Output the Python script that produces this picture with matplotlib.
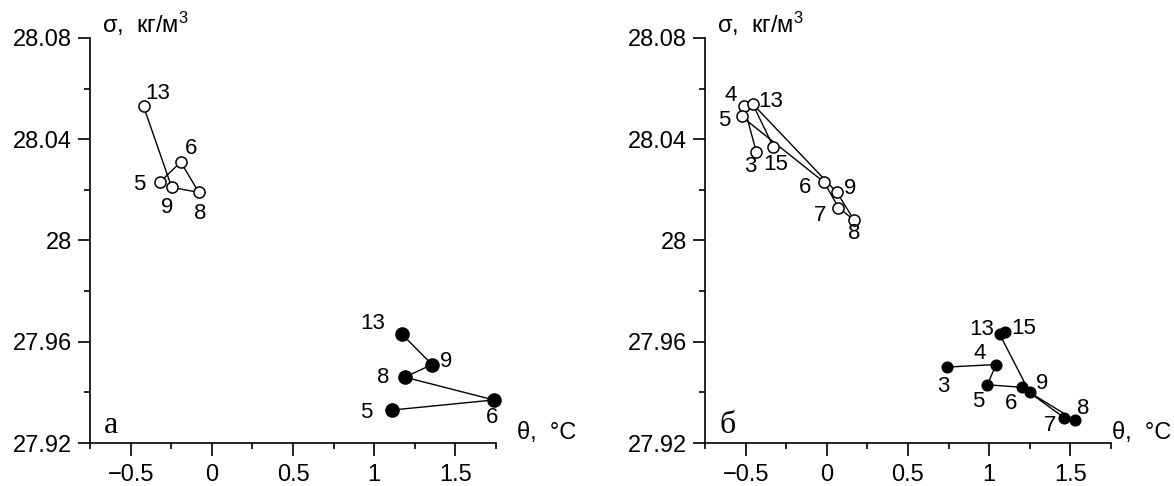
#!/usr/bin/env python3
# -*- coding: utf-8 -*-

import matplotlib
matplotlib.use("Agg")
import matplotlib.pyplot as plt
from matplotlib.ticker import MultipleLocator, FuncFormatter

plt.rcParams['font.family'] = ['Liberation Sans', 'DejaVu Sans']

#####################
#   Data (theta, sigma)

# panel a, open circles
a_open_st = ['5', '6', '8', '9', '13']
a_open_t = [-0.321, -0.191, -0.080, -0.247, -0.420]
a_open_s = [28.023, 28.031, 28.019, 28.021, 28.053]
a_open_lbl = [(-20, 2), (10, -14), (1, 21), (-5, 20), (14, -13)]

# panel a, filled circles
a_fill_st = ['5', '6', '8', '9', '13']
a_fill_t = [1.107, 1.737, 1.189, 1.356, 1.171]
a_fill_s = [27.933, 27.937, 27.946, 27.951, 27.963]
a_fill_lbl = [(-25, 2), (-2, 18), (-22, 0), (14, -3), (-29, -11)]

# panel b, open circles
b_open_st = ['3', '4', '5', '6', '7', '8', '9', '13', '15']
b_open_t = [-0.434, -0.510, -0.525, -0.016, 0.072, 0.169, 0.062, -0.457, -0.329]
b_open_s = [28.035, 28.053, 28.049, 28.023, 28.013, 28.008, 28.019, 28.054, 28.037]
b_open_lbl = [(-6, 15), (-13, -11), (-17, 4), (-19, 5), (-18, 8), (0, 13),
              (13, -4), (18, -2), (2, 18)]

# panel b, filled circles
b_fill_st = ['3', '4', '5', '6', '7', '8', '9', '13', '15']
b_fill_t = [0.741, 1.043, 0.988, 1.204, 1.461, 1.527, 1.249, 1.064, 1.099]
b_fill_s = [27.950, 27.951, 27.943, 27.942, 27.930, 27.929, 27.940, 27.963, 27.964]
b_fill_lbl = [(-4, 19), (-16, -11), (-9, 17), (-11, 16), (-14, 8), (8, -12),
              (12, -9), (-18, -5), (18, -3)]

FS = 17


def fmt(v, pos):
    return ('%g' % round(v, 3)).replace('-', '\u2212')


def draw_series(ax, t, s, st, offs, filled, ms):
    if filled:
        ax.plot(t, s, '-', color='black', lw=1, marker='o', ms=ms,
                mfc='black', mec='black', clip_on=False, zorder=3)
    else:
        ax.plot(t, s, '-', color='black', lw=1, marker='o', ms=ms,
                mfc='white', mec='black', mew=1.1, clip_on=False, zorder=3)
    for x, y, name, (dx, dy) in zip(t, s, st, offs):
        ax.annotate(name, (x, y), xytext=(dx, -dy), textcoords='offset pixels',
                    ha='center', va='center', fontsize=16)


def setup_axes(ax, letter, theta_x):
    ax.set_xlim(-0.75, 1.75)
    ax.set_ylim(27.92, 28.08)
    for side in ['top', 'right']:
        ax.spines[side].set_visible(False)
    for side in ['left', 'bottom']:
        ax.spines[side].set_linewidth(1.2)
    ax.xaxis.set_major_locator(MultipleLocator(0.5))
    ax.xaxis.set_minor_locator(MultipleLocator(0.25))
    ax.yaxis.set_major_locator(MultipleLocator(0.04))
    ax.yaxis.set_minor_locator(MultipleLocator(0.02))
    ax.xaxis.set_major_formatter(FuncFormatter(fmt))
    ax.yaxis.set_major_formatter(FuncFormatter(fmt))
    ax.tick_params(which='major', length=9, width=1.2, labelsize=FS)
    ax.tick_params(which='minor', length=4.5, width=1.2)
    ax.tick_params(axis='x', which='major', pad=6)
    ax.tick_params(axis='y', which='major', pad=4)
    ax.text(0.03, 1.012, '\u03c3,  \u043a\u0433/\u043c$\\mathregular{^3}$',
            transform=ax.transAxes, fontsize=FS, ha='left', va='baseline')
    ax.text(theta_x, 0.01, '\u03b8,  \u00b0C', transform=ax.transAxes,
            fontsize=FS, ha='left', va='baseline')
    ax.text(0.035, 0.025, letter, transform=ax.transAxes, fontsize=23,
            family='Liberation Serif', ha='left', va='baseline')


########### Script

fig = plt.figure(figsize=(11.74, 4.86), dpi=100)
ax1 = fig.add_axes([90 / 1174, 43 / 486, 406 / 1174, 405 / 486])
ax2 = fig.add_axes([705 / 1174, 43 / 486, 406 / 1174, 405 / 486])

setup_axes(ax1, '\u0430', 1.052)
draw_series(ax1, a_open_t, a_open_s, a_open_st, a_open_lbl, False, 8)
draw_series(ax1, a_fill_t, a_fill_s, a_fill_st, a_fill_lbl, True, 9.5)

setup_axes(ax2, '\u0431', 1.003)
draw_series(ax2, b_open_t, b_open_s, b_open_st, b_open_lbl, False, 8)
draw_series(ax2, b_fill_t, b_fill_s, b_fill_st, b_fill_lbl, True, 7.7)

fig.savefig('out.png', dpi=100)
